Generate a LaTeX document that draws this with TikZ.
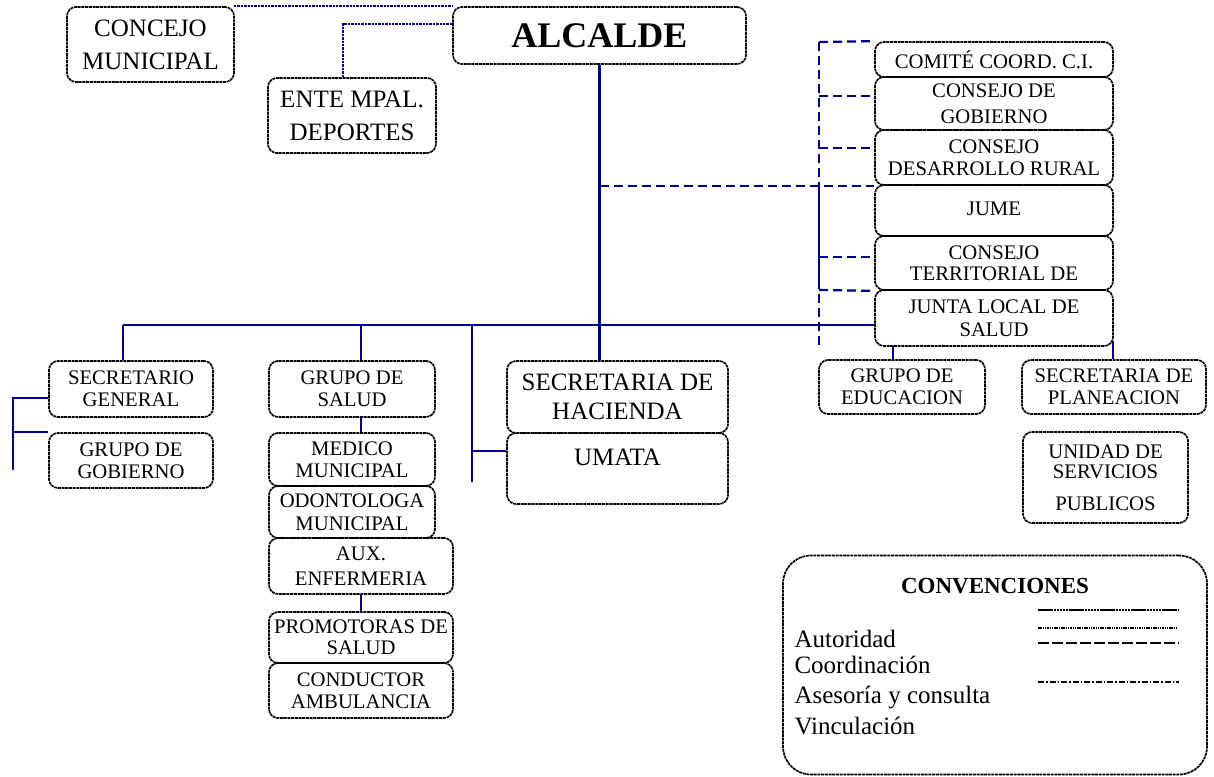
\documentclass[tikz,border=0pt]{standalone}
\usepackage{fontspec}
\setmainfont{Liberation Serif}
\definecolor{lnavy}{RGB}{0,0,140}
\newcommand\fsm{\fontsize{20.7}{23}\selectfont}
\newcommand\fbig{\fontsize{25}{33}\selectfont}
\tikzset{
 box/.style={draw=black, line width=1.7pt, dash pattern=on 3pt off 0.7pt, rounded corners=9pt, inner sep=0pt, align=center, font=\fsm},
 auth/.style={draw=lnavy, line width=2.2pt},
 coordl/.style={draw=lnavy, line width=2.2pt, dash pattern=on 2.4pt off 1pt},
 advice/.style={draw=lnavy, line width=2.2pt, dash pattern=on 9pt off 5pt},
 legtext/.style={anchor=base west, font=\fontsize{25}{30}\selectfont},
}
\newcommand\bx[7][]{\node[box,minimum width={(#5-#3)*1pt},minimum height={(#6-#4)*1pt},#1] (#2) at ({(#3+#5)/2},{(#4+#6)/2}) {#7};}
\begin{document}
\begin{tikzpicture}[x=1pt,y=-1pt]
\useasboundingbox (0,0) rectangle (1214,776);
% top
\bx[font=\fbig]{concejo}{67}{7}{234}{82}{CONCEJO\\MUNICIPAL}
\bx[font=\fbig]{ente}{268}{78}{436}{153}{ENTE MPAL.\\DEPORTES}
\bx[font=\fontsize{36}{40}\selectfont\bfseries]{alcalde}{453}{7}{746}{64}{ALCALDE}
% right column
\bx{comite}{875}{42}{1113}{77}{\raisebox{-3pt}{COMITÉ COORD. C.I.}}
\bx{gob}{875}{77}{1113}{130}{CONSEJO DE\\[3pt]GOBIERNO}
\bx{rural}{875}{130}{1113}{185}{CONSEJO\\[-1pt]DESARROLLO RURAL}
\bx{jume}{875}{185}{1113}{236}{\raisebox{4pt}{JUME}}
\bx{terr}{875}{236}{1113}{290}{CONSEJO\\[-2pt]TERRITORIAL DE}
\bx{junta}{875}{290}{1113}{346}{JUNTA LOCAL DE\\SALUD}
\bx{edu}{819}{360}{985}{414}{GRUPO DE\\[-1pt]EDUCACION}
\bx{plan}{1022}{360}{1206}{414}{SECRETARIA DE\\[-1pt]PLANEACION}
\bx{usp}{1023}{432}{1188}{523}{UNIDAD DE\\[-3pt]SERVICIOS\\[9pt]PUBLICOS}
% left
\bx{sg}{49}{361}{213}{417}{SECRETARIO\\[-1pt]GENERAL}
\bx{gg}{49}{433}{213}{488}{GRUPO DE\\[-1pt]GOBIERNO}
\bx{gs}{269}{361}{435}{417}{GRUPO DE\\[-1pt]SALUD}
\bx{med}{269}{433}{435}{486}{MEDICO\\[-1pt]MUNICIPAL}
\bx{odo}{269}{486}{435}{538}{ODONTOLOGA\\MUNICIPAL}
\bx{aux}{269}{538}{453}{594}{AUX.\\[2pt]ENFERMERIA}
\bx{prom}{269}{612}{453}{663}{PROMOTORAS DE\\[-2pt]SALUD}
\bx{cond}{269}{663}{453}{718}{CONDUCTOR\\[-1pt]AMBULANCIA}
\bx[font=\fbig]{hac}{507}{361}{728}{433}{SECRETARIA DE\\[-4pt]HACIENDA}
\bx{umata}{507}{433}{728}{504}{}
\node[font=\fbig, anchor=base] (umatat) at (617.5,465) {UMATA};
% legend
\node[draw=black, line width=1.7pt, dash pattern=on 3pt off 0.7pt, rounded corners=28pt, minimum width=424pt, minimum height=219pt] (conv) at (995,665) {};
\node[anchor=base, font=\fontsize{23}{26}\selectfont\bfseries] (convt) at (995,593) {CONVENCIONES};
\node[legtext] (la) at (791,647) {Autoridad};
\node[legtext] (lc) at (791,673) {Coordinación};
\node[legtext] (las) at (791,703) {Asesoría y consulta};
\node[legtext] (lv) at (791,734) {Vinculación};
\coordinate (g1a) at (1038,610); \coordinate (g1b) at (1179,610);
\coordinate (g2a) at (1038,628); \coordinate (g2b) at (1177,628);
\coordinate (g3a) at (1038,643); \coordinate (g3b) at (1179,643);
\coordinate (g4a) at (1038,682); \coordinate (g4b) at (1179,682);
\draw[black, line width=1.5pt, dash pattern=on 2.5pt off 0.6pt] (g1a) -- (g1b);
\draw[black, line width=1.3pt, dash pattern=on 1.5pt off 0.8pt] (g2a) -- (g2b);
\draw[black, line width=1.6pt, dash pattern=on 11pt off 3pt] (g3a) -- (g3b);
\draw[black, line width=1.6pt, dash pattern=on 6pt off 2pt on 1.5pt off 2pt] (g4a) -- (g4b);
% connectors
\coordinate (c0) at (234,6);
\draw[coordl] (c0) -- (c0 -| alcalde.west);
\coordinate (ej) at (343,24);
\draw[coordl] (ej -| alcalde.west) -- (ej) -- (ej |- ente.north);
\draw[auth] (alcalde.south) -- (alcalde.south |- hac.north);
\draw[advice] (alcalde.south |- rural.south) -- (rural.south west);
\coordinate (vtop) at (819,42);
\coordinate (v184) at (819,184);
\coordinate (v280) at (819,280);
\coordinate (vbot) at (819,347);
\draw[advice] (vtop) -- (v184);
\draw[auth] (v184) -- (v280);
\draw[advice] (v280) -- (vbot);
\draw[advice] (vtop) -- (comite.north west);
\coordinate (b2) at (819,96);
\draw[advice] (b2) -- (b2 -| gob.west);
\coordinate (b3) at (819,148);
\draw[advice] (b3) -- (b3 -| rural.west);
\coordinate (b5) at (819,257);
\draw[advice] (b5) -- (b5 -| terr.west);
\coordinate (b6) at (819,290);
\draw[advice] (b6) -- (terr.south west);
\coordinate (h1) at (123,325);
\draw[auth] (h1) -- (h1 -| junta.west);
\draw[auth] (h1) -- (h1 |- sg.north);
\coordinate (h2) at (361,325);
\draw[auth] (h2) -- (h2 |- gs.north);
\draw[auth] (h2 |- gs.south) -- (h2 |- med.north);
\draw[auth] (h2 |- aux.south) -- (h2 |- prom.north);
\coordinate (h3) at (472,325);
\coordinate (h3b) at (472,482);
\coordinate (h3u) at (472,451);
\draw[auth] (h3) -- (h3b);
\draw[auth] (h3u) -- (h3u -| umata.west);
\coordinate (l1) at (13,398);
\coordinate (l2) at (13,432);
\coordinate (l3) at (13,470);
\draw[auth] (l1 -| sg.west) -- (l1) -- (l3);
\draw[auth] (l2) -- (l2 -| gg.west);
\coordinate (e1) at (893,346);
\draw[auth] (e1) -- (e1 |- edu.north);
\coordinate (p1) at (1113,341);
\draw[auth] (p1) -- (p1 |- plan.north);
\end{tikzpicture}
\end{document}
